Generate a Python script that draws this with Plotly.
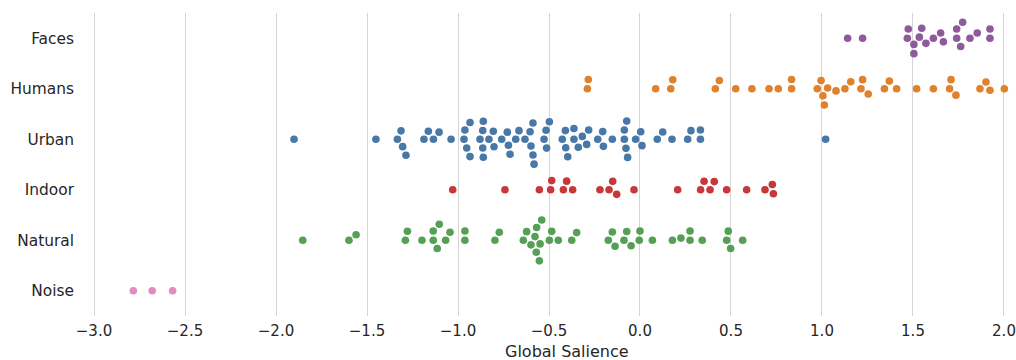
import numpy as np
import plotly.graph_objects as go

categories = ["Faces", "Humans", "Urban", "Indoor", "Natural", "Noise"]

faces = [1.141, 1.223, 1.469, 1.474, 1.505, 1.505, 1.535, 1.548, 1.571, 1.612,
         1.652, 1.667, 1.740, 1.740, 1.762, 1.773, 1.813, 1.853, 1.923, 1.923]

humans = [-0.289, -0.284, 0.086, 0.169, 0.180, 0.414, 0.436, 0.526, 0.615, 0.709,
          0.760, 0.833, 0.833, 0.974, 0.995, 1.005, 1.013, 1.031, 1.077, 1.126,
          1.158, 1.214, 1.223, 1.254, 1.343, 1.370, 1.410, 1.520, 1.612, 1.701,
          1.709, 1.736, 1.868, 1.901, 1.923, 2.002]

urban = [-1.901, -1.451, -1.333, -1.313, -1.304, -1.286, -1.187, -1.163, -1.135, -1.104,
         -1.038, -0.967, -0.962, -0.952, -0.934, -0.934, -0.879, -0.864, -0.864, -0.861,
         -0.861, -0.830, -0.806, -0.802, -0.760, -0.729, -0.723, -0.714, -0.683, -0.665,
         -0.632, -0.604, -0.599, -0.588, -0.588, -0.582, -0.527, -0.516, -0.513, -0.498,
         -0.427, -0.410, -0.408, -0.397, -0.363, -0.363, -0.339, -0.317, -0.293, -0.282,
         -0.232, -0.205, -0.201, -0.152, -0.086, -0.086, -0.077, -0.073, -0.068, -0.024,
         0.004, 0.011, 0.095, 0.125, 0.176, 0.262, 0.280, 0.332, 0.332, 1.020]

indoor = [-1.029, -0.742, -0.553, -0.491, -0.485, -0.421, -0.403, -0.370, -0.220, -0.170,
          -0.150, -0.128, -0.033, 0.207, 0.333, 0.352, 0.385, 0.408, 0.476, 0.586,
          0.687, 0.727, 0.733]

natural = [-1.853, -1.599, -1.560, -1.289, -1.278, -1.198, -1.136, -1.136, -1.114, -1.103,
           -1.068, -1.044, -0.962, -0.962, -0.797, -0.773, -0.641, -0.623, -0.599, -0.577,
           -0.570, -0.568, -0.553, -0.549, -0.540, -0.498, -0.485, -0.449, -0.375, -0.348,
           -0.174, -0.152, -0.137, -0.088, -0.073, -0.049, -0.004, 0.000, 0.068, 0.178,
           0.225, 0.275, 0.275, 0.342, 0.476, 0.485, 0.498, 0.564]

noise = [-2.784, -2.680, -2.568]

series = [faces, humans, urban, indoor, natural, noise]
colors = ["#8E5A9B", "#E0812B", "#4878A6", "#C8383B", "#55A055", "#E08CC0"]

x_ticks = [-3.0, -2.5, -2.0, -1.5, -1.0, -0.5, 0.0, 0.5, 1.0, 1.5, 2.0]
x_ticktext = [("\u2212" if v < 0 else "") + f"{abs(v):.1f}" for v in x_ticks]

# layout geometry
W, H = 1016, 360
ML, MR, MT, MB = 90, 0, 13, 44
x_range = [-3.022, 2.066]
y_range = [len(categories) - 0.5, -0.5]

plot_w = W - ML - MR
plot_h = H - MT - MB
sx = plot_w / (x_range[1] - x_range[0])  # px per data unit (x)
sy = plot_h / (y_range[0] - y_range[1])  # px per category unit (y)

R = 4.4          # collision radius in px
DOT = 7.6        # drawn marker diameter in px


def beeswarm(vals, r, scale):
    """Seaborn-style beeswarm; returns offsets in px (positive = up on screen)."""
    v = np.asarray(vals, float)
    px = v * scale
    order = np.argsort(px, kind="stable")
    placed = []
    res = np.zeros(len(v))
    for idx in order:
        p = px[idx]
        if not placed:
            placed.append((0.0, p))
            res[idx] = 0.0
            continue
        neigh = []
        for oj, pj in reversed(placed):
            if p - pj < 2 * r:
                neigh.append((oj, pj))
            else:
                break
        neigh = neigh[::-1]
        cands = [0.0]
        up_first = True
        for oj, pj in neigh:
            dy = p - pj
            dx = np.sqrt(max(4 * r * r - dy * dy, 0.0)) * 1.05
            cu, cd = oj + dx, oj - dx
            cands.extend([cu, cd] if up_first else [cd, cu])
            up_first = not up_first
        cands = np.array(cands)
        cands = cands[np.argsort(np.abs(cands), kind="stable")]
        chosen = cands[0]
        for c in cands:
            if all((oj - c) ** 2 + (pj - p) ** 2 >= 4 * r * r - 1e-9 for oj, pj in neigh):
                chosen = c
                break
        placed.append((chosen, p))
        res[idx] = chosen
    return res


fig = go.Figure()
for i, (cat, vals, col) in enumerate(zip(categories, series, colors)):
    offs = beeswarm(vals, R, sx)
    ys = i - offs / sy
    fig.add_trace(go.Scatter(
        x=vals, y=ys, mode="markers", name=cat,
        marker=dict(size=DOT, color=col, line=dict(width=0)),
        showlegend=False,
    ))

font_family = "DejaVu Sans"
fig.update_layout(
    width=W, height=H,
    margin=dict(l=ML, r=MR, t=MT, b=MB, pad=0, autoexpand=False),
    paper_bgcolor="white", plot_bgcolor="white",
    font=dict(family=font_family, color="#262626", size=15),
    xaxis=dict(
        range=x_range, tickvals=x_ticks, ticktext=x_ticktext,
        showgrid=True, gridcolor="#d5d5d5", gridwidth=1.2,
        zeroline=False, showline=False, ticks="",
        tickfont=dict(size=15, color="#262626"),
        ticklabelstandoff=4, automargin=False,
        ticklabeloverflow="allow",
    ),
    yaxis=dict(
        range=y_range, tickvals=list(range(len(categories))), ticktext=categories,
        showgrid=False, zeroline=False, showline=False, ticks="",
        tickfont=dict(size=15.4, color="#262626"),
        ticklabelstandoff=15, automargin=False,
    ),
    annotations=[dict(
        text="Global Salience", xref="paper", yref="paper",
        x=(567 - ML) / plot_w, y=-(351 - (MT + plot_h)) / plot_h,
        xanchor="center", yanchor="middle", showarrow=False,
        font=dict(size=16, color="#262626", family=font_family),
    )],
)

fig.write_html(
    "out.html",
    config={"displayModeBar": False},
    post_script="document.body.style.margin='0';document.body.style.overflow='hidden';",
)
